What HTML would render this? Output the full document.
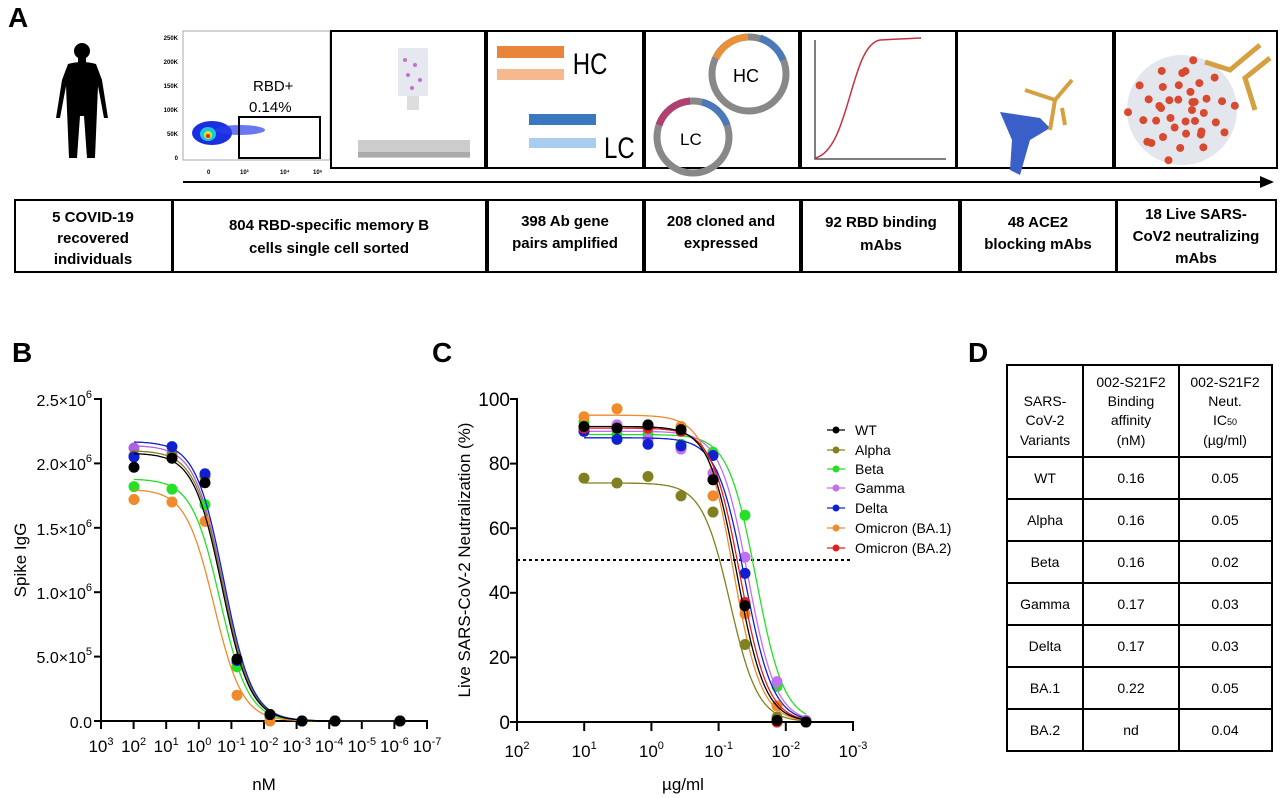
<!DOCTYPE html>
<html><head><meta charset="utf-8"><style>
body{margin:0;background:#fff;}
svg{display:block;font-family:"Liberation Sans",Arial,sans-serif;}
.bt{font-weight:bold;font-size:15px;}
</style></head><body>
<svg id="s" width="1280" height="798" viewBox="0 0 1280 798" xmlns="http://www.w3.org/2000/svg">
<text x="8" y="27" font-size="28" font-weight="bold">A</text>
<text x="12" y="362" font-size="28" font-weight="bold">B</text>
<text x="432" y="362" font-size="28" font-weight="bold">C</text>
<text x="968" y="362" font-size="28" font-weight="bold">D</text>

<g fill="#000">
<circle cx="82" cy="51" r="8"/>
<rect x="78" y="57" width="8" height="6"/>
<path d="M68 64 Q82 60 96 64 L102 80 L108 118 L104 118 L98 86 L97 110 L95 158 L87 158 L84 116 L80 116 L77 158 L69 158 L67 110 L66 86 L60 118 L56 118 L62 80 Z"/>
</g>

<rect x="183" y="31" width="147" height="129" fill="none" stroke="#aaa" stroke-width="1"/>
<g font-size="6" font-weight="bold" text-anchor="end">
<text x="178" y="40">250K</text><text x="178" y="64">200K</text><text x="178" y="88">150K</text><text x="178" y="112">100K</text><text x="178" y="136">50K</text><text x="178" y="160">0</text>
</g>
<g font-size="6" font-weight="bold"><text x="207" y="174">0</text><text x="240" y="174">10³</text><text x="280" y="174">10⁴</text><text x="313" y="174">10⁵</text></g>
<ellipse cx="212" cy="133" rx="20" ry="12" fill="#1a2fe0"/>
<ellipse cx="240" cy="130" rx="25" ry="5" fill="#2b3fe8" opacity="0.7"/>
<ellipse cx="208" cy="134" rx="8" ry="7" fill="#19c8e0"/>
<ellipse cx="208" cy="135" rx="4" ry="4" fill="#e0e020"/>
<circle cx="208" cy="136" r="2" fill="#e02020"/>
<rect x="239" y="117" width="81" height="41" fill="none" stroke="#000" stroke-width="2"/>
<text x="253" y="91" font-size="15">RBD+</text>
<text x="249" y="112" font-size="15">0.14%</text>
<line x1="183" y1="182" x2="1262" y2="182" stroke="#000" stroke-width="2"/>
<polygon points="1260,176 1274,182 1260,188" fill="#000"/>

<g fill="none" stroke="#000" stroke-width="2">
<rect x="331" y="31" width="154" height="137"/>
<rect x="487" y="31" width="156" height="137"/>
<rect x="645" y="31" width="154" height="137"/>
<rect x="801" y="31" width="155" height="137"/>
<rect x="957" y="31" width="156" height="137"/>
<rect x="1115" y="31" width="162" height="137"/>
</g>
<rect x="398" y="48" width="30" height="48" fill="#e6e8f0"/>
<g fill="#c070d0"><circle cx="405" cy="60" r="2"/><circle cx="415" cy="65" r="2"/><circle cx="408" cy="75" r="2"/><circle cx="420" cy="80" r="2"/><circle cx="412" cy="88" r="2"/></g>
<rect x="407" y="96" width="12" height="14" fill="#ddd"/>
<rect x="358" y="140" width="112" height="18" fill="#ccc"/>
<rect x="358" y="152" width="112" height="5" fill="#aaa"/>
<rect x="497" y="46" width="67" height="12" fill="#e8853a"/>
<rect x="497" y="69" width="67" height="11" fill="#f5b88f"/>
<text x="573" y="74" font-size="30" transform="scale(0.8,1) translate(143,0)">HC</text>
<rect x="529" y="114" width="67" height="11" fill="#3a78c0"/>
<rect x="529" y="138" width="67" height="10" fill="#a8cdee"/>
<text x="604" y="158" font-size="30" transform="scale(0.8,1) translate(151,0)">LC</text>
<circle cx="749" cy="74" r="37" fill="none" stroke="#888" stroke-width="7"/>
<path d="M716 58 A37 37 0 0 1 748 37" fill="none" stroke="#e8903a" stroke-width="7"/>
<path d="M760 38 A37 37 0 0 1 783 60" fill="none" stroke="#4a78b8" stroke-width="7"/>
<text x="733" y="82" font-size="18">HC</text>
<circle cx="693" cy="137" r="36" fill="none" stroke="#888" stroke-width="7"/>
<path d="M659 125 A36 36 0 0 1 690 101" fill="none" stroke="#b04070" stroke-width="7"/>
<path d="M702 102 A36 36 0 0 1 727 125" fill="none" stroke="#4a78b8" stroke-width="7"/>
<text x="680" y="145" font-size="17">LC</text>
<polyline points="815,40 815,159 946,159" fill="none" stroke="#555" stroke-width="1.5"/>
<path d="M815 158 C850 150 850 45 880 40 L921 38" fill="none" stroke="#c83040" stroke-width="1.5"/>
<path d="M1000 112 L1040 118 L1050 128 L1030 140 L1020 175 L1010 170 L1012 140 Z" fill="#3a5fc8"/>
<g stroke="#d4a040" stroke-width="4" fill="none"><path d="M1050 130 L1055 100 L1072 80"/><path d="M1055 100 L1025 90"/><path d="M1062 108 L1065 125"/></g>
<circle cx="1182" cy="110" r="55" fill="#e4e6ee"/>
<g fill="#d84a30" id="sp"></g>
<g stroke="#d4a040" stroke-width="5" fill="none"><path d="M1260 45 L1230 70 L1205 62"/><path d="M1270 58 L1245 78 L1255 110"/></g>

<g fill="none" stroke="#000" stroke-width="2">
<rect x="15" y="200" width="157" height="72"/>
<rect x="173" y="200" width="313" height="72"/>
<rect x="488" y="200" width="155" height="72"/>
<rect x="645" y="200" width="155" height="72"/>
<rect x="802" y="200" width="157" height="72"/>
<rect x="961" y="200" width="155" height="72"/>
<rect x="1117" y="200" width="159" height="72"/>
</g>
<g class="bt" text-anchor="middle">
<text x="93" y="222">5 COVID-19</text><text x="93" y="243">recovered</text><text x="93" y="264">individuals</text>
<text x="329" y="230">804 RBD-specific memory B</text><text x="329" y="253">cells single cell sorted</text>
<text x="565" y="226">398 Ab gene</text><text x="565" y="248">pairs amplified</text>
<text x="721" y="226">208 cloned and</text><text x="721" y="248">expressed</text>
<text x="881" y="227">92 RBD binding</text><text x="881" y="250">mAbs</text>
<text x="1038" y="227">48 ACE2</text><text x="1038" y="249">blocking mAbs</text>
<text x="1196" y="219">18 Live SARS-</text><text x="1196" y="241">CoV2 neutralizing</text><text x="1196" y="263">mAbs</text>
</g>

<g stroke="#000" stroke-width="2" fill="none">
<line x1="101" y1="398" x2="101" y2="722"/>
<line x1="100" y1="721" x2="428" y2="721"/>
</g>
<g id="bt" stroke="#000" stroke-width="2"></g>
<g font-size="16" text-anchor="end">
<text x="92" y="406">2.5×10<tspan font-size="11" dy="-8">6</tspan></text>
<text x="92" y="470">2.0×10<tspan font-size="11" dy="-8">6</tspan></text>
<text x="92" y="535">1.5×10<tspan font-size="11" dy="-8">6</tspan></text>
<text x="92" y="599">1.0×10<tspan font-size="11" dy="-8">6</tspan></text>
<text x="92" y="663">5.0×10<tspan font-size="11" dy="-8">5</tspan></text>
<text x="92" y="728">0.0</text>
</g>
<g id="bx" font-size="17" text-anchor="middle"></g>
<text x="264" y="790" font-size="17" text-anchor="middle">nM</text>
<text transform="translate(26,560) rotate(-90)" font-size="17" text-anchor="middle">Spike IgG</text>
<g id="bc"></g>

<g stroke="#000" stroke-width="2" fill="none">
<line x1="517" y1="398" x2="517" y2="723"/>
<line x1="516" y1="722" x2="854" y2="722"/>
</g>
<g id="ct" stroke="#000" stroke-width="2"></g>
<g font-size="19" text-anchor="end">
<text x="510" y="406">100</text><text x="510" y="470">80</text><text x="510" y="535">60</text><text x="510" y="599">40</text><text x="510" y="664">20</text><text x="510" y="729">0</text>
</g>
<g id="cx" font-size="17" text-anchor="middle"></g>
<text x="683" y="790" font-size="17" text-anchor="middle">µg/ml</text>
<text transform="translate(470,560) rotate(-90)" font-size="17" text-anchor="middle">Live SARS-CoV-2 Neutralization (%)</text>
<line x1="517" y1="560" x2="852" y2="560" stroke="#000" stroke-width="2" stroke-dasharray="3,3"/>
<g id="cc"></g>
<g id="lg" font-size="14"></g>

<g stroke="#000" stroke-width="2" fill="none">
<rect x="1007" y="365" width="265" height="386"/>
<line x1="1083" y1="365" x2="1083" y2="751"/>
<line x1="1179" y1="365" x2="1179" y2="751"/>
<line x1="1007" y1="457" x2="1272" y2="457"/>
<line x1="1007" y1="499" x2="1272" y2="499"/>
<line x1="1007" y1="541" x2="1272" y2="541"/>
<line x1="1007" y1="583" x2="1272" y2="583"/>
<line x1="1007" y1="625" x2="1272" y2="625"/>
<line x1="1007" y1="667" x2="1272" y2="667"/>
<line x1="1007" y1="709" x2="1272" y2="709"/>
</g>
<g font-size="14" text-anchor="middle">
<text x="1045" y="406">SARS-</text><text x="1045" y="425">CoV-2</text><text x="1045" y="445">Variants</text>
<text x="1131" y="387">002-S21F2</text><text x="1131" y="406">Binding</text><text x="1131" y="425">affinity</text><text x="1131" y="445">(nM)</text>
<text x="1225" y="387">002-S21F2</text><text x="1225" y="406">Neut.</text><text x="1225" y="425">IC<tspan font-size="9">50</tspan></text><text x="1225" y="445">(µg/ml)</text>
</g>
<g id="tb" font-size="14" text-anchor="middle"></g>
</svg>
<script>
var NS="http://www.w3.org/2000/svg";
function el(p,t,a,txt){var e=document.createElementNS(NS,t);for(var k in a)e.setAttribute(k,a[k]);if(txt!=null)e.innerHTML=txt;document.getElementById(p).appendChild(e);return e;}
for(var i=0;i<40;i++){var a=i*2.4,r=10+((i*37)%45);var x=1182+Math.cos(a)*r,y=110+Math.sin(a)*r;el("sp","circle",{cx:x,cy:y,r:4});}
var bl=["3","2","1","0","-1","-2","-3","-4","-5","-6","-7"];
for(var i=0;i<=10;i++){var x=101+i*32.6;el("bt","line",{x1:x,y1:721,x2:x,y2:729});
el("bx","text",{x:x,y:752},"10<tspan font-size='11' dy='-7'>"+bl[i]+"</tspan>");}
for(var i=0;i<5;i++){el("bt","line",{x1:94,y1:399+i*64.4,x2:101,y2:399+i*64.4});}
el("bt","line",{x1:94,y1:721,x2:101,y2:721});
var cl=["2","1","0","-1","-2","-3"];
for(var i=0;i<=5;i++){var x=517+i*67.2;el("ct","line",{x1:x,y1:722,x2:x,y2:731});
el("cx","text",{x:x,y:757},"10<tspan font-size='11' dy='-8'>"+cl[i]+"</tspan>");}
for(var i=0;i<=5;i++){el("ct","line",{x1:510,y1:399+i*64.6,x2:517,y2:399+i*64.6});}
function curve(g,col,x0,x1,yt,yb,xm,s){var d="";for(var x=x0;x<=x1;x+=1){var y=yb+(yt-yb)/(1+Math.exp((x-xm)/s));d+=(d?"L":"M")+x+" "+y.toFixed(1);}el(g,"path",{d:d,fill:"none",stroke:col,"stroke-width":1.3});}
var BX=[134,172,205,237,270,302,335,400];
function by(v){return 721-v*128.8;}
var B=[
["#b060e0",2.14,223,[2.12,2.08,1.9,0.45,0.05,0,0,0]],
["#808020",2.10,223,[2.06,2.06,1.9,0.46,0.05,0,0,0]],
["#25e025",1.88,220,[1.82,1.80,1.68,0.42,0.03,0,0,0]],
["#f08a2a",1.80,214,[1.72,1.70,1.55,0.20,0.0,0,0,0]],
["#1020d0",2.17,224,[2.05,2.13,1.92,0.47,0.05,0,0,0]],
["#000",2.08,222,[1.97,2.04,1.85,0.48,0.05,0,0,0]]];
B.forEach(function(s){curve("bc",s[0],134,400,by(s[1]),721,s[2],14.2);s[3].forEach(function(v,i){el("bc","circle",{cx:BX[i],cy:by(v),r:5.5,fill:s[0]});});});
var CX=[584,617,648,681,713,745,777,806];
function cy(v){return 722-v*3.23;}
var C=[
["WT","#000",91.5,737,[91.5,91,92,90.5,75,36,0.5,0]],
["Alpha","#808020",74,730,[75.5,74,76,70,65,24,1.5,0]],
["Beta","#25e025",89,756,[93,89,89,86,83.5,64,11,0.5]],
["Gamma","#c070f0",90,748,[90,92,87.5,84.5,77,51,12.5,0.5]],
["Delta","#1020d0",88,745,[90,87.5,86,85.5,82.5,46,0,0]],
["Omicron (BA.1)","#f08a2a",95,733,[94.5,97,92,91.5,70,33.5,5,0]],
["Omicron (BA.2)","#e02020",91,740,[91,91,91,90,75,37,0,0]]];
var order=[2,3,4,5,6,1,0];
order.forEach(function(k){var s=C[k];curve("cc",s[1],584,806,cy(s[2]),722,s[3],14);s[4].forEach(function(v,i){el("cc","circle",{cx:CX[i],cy:cy(v),r:5.5,fill:s[1]});});});
var LY=[430,450,469,488,508,528,548];
C.forEach(function(s,i){el("lg","line",{x1:827,y1:LY[i],x2:845,y2:LY[i],stroke:s[1],"stroke-width":1.3});el("lg","circle",{cx:836,cy:LY[i],r:3.5,fill:s[1]});el("lg","text",{x:855,y:LY[i]+5},s[0]);});
var T=[["WT","0.16","0.05"],["Alpha","0.16","0.05"],["Beta","0.16","0.02"],["Gamma","0.17","0.03"],["Delta","0.17","0.03"],["BA.1","0.22","0.05"],["BA.2","nd","0.04"]];
T.forEach(function(r,i){var y=483+i*42;el("tb","text",{x:1045,y:y},r[0]);el("tb","text",{x:1131,y:y},r[1]);el("tb","text",{x:1225,y:y},r[2]);});
</script>
</body></html>
